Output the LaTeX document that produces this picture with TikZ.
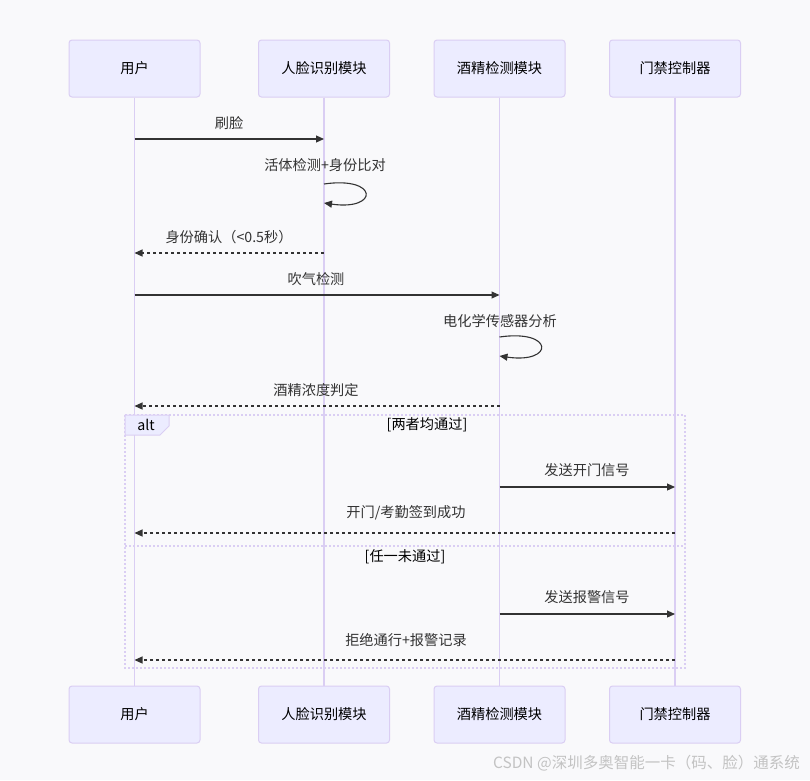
\documentclass[tikz,border=0pt]{standalone}
\usepackage{fontspec}
\setmainfont{Noto Sans CJK SC}
\usepackage{xcolor}
\usetikzlibrary{arrows.meta, positioning, calc}
\definecolor{seqBack}{RGB}{249, 249, 251}
\definecolor{actorFill}{RGB}{236, 236, 255}
\definecolor{actorLine}{RGB}{218, 206, 243}
\definecolor{msgLine}{RGB}{51, 51, 51}
\definecolor{markGray}{RGB}{195, 195, 195}

\begin{document}
\begin{tikzpicture}[x=1pt, y=-1pt, font=\fontsize{14.2}{16}\selectfont]
        \tikzstyle{actor} = [rectangle, rounded corners=3pt, minimum width=131pt, minimum height=57pt, text centered, draw=actorLine, fill=actorFill, line width=1pt, text=black]
        \tikzstyle{life} = [actorLine, line width=1.6pt]
        \tikzstyle{msg} = [-{Triangle[length=8pt, width=7pt]}, msgLine, line width=1.1pt]
        \tikzstyle{reply} = [msg, dash pattern=on 3pt off 3pt]
        \tikzstyle{txt} = [text=msgLine, inner sep=0pt]
        \tikzstyle{frame} = [actorLine, line width=1.3pt, dash pattern=on 2pt off 2pt]

        % Background
        \fill[seqBack] (0,0) rectangle (810,780);
        \useasboundingbox (0,0) rectangle (810,780);

        % Actors (top)
        \node[actor] (userT) at (134.5,68.5) {用户};
        \node[actor] (faceT) at (324,68.5) {人脸识别模块};
        \node[actor] (alcT) at (499.5,68.5) {酒精检测模块};
        \node[actor] (doorT) at (675,68.5) {门禁控制器};

        % Actors (bottom)
        \node[actor] (userB) at (134.5,714.5) {用户};
        \node[actor] (faceB) at (324,714.5) {人脸识别模块};
        \node[actor] (alcB) at (499.5,714.5) {酒精检测模块};
        \node[actor] (doorB) at (675,714.5) {门禁控制器};

        % Lifelines
        \draw[life] (userT) -- (userB);
        \draw[life] (faceT) -- (faceB);
        \draw[life] (alcT) -- (alcB);
        \draw[life] (doorT) -- (doorB);

        % Alt frame
        \draw[frame] (125,415) rectangle (685,668);
        \draw[frame] (125,546) -- (685,546);
        \filldraw[fill=actorFill, draw=actorLine, line width=1pt] (125,415) -- (169,415) -- (169,426) -- (160,435) -- (125,435) -- cycle;
        \node[txt, text=black] (altlbl) at (146,425) {alt};
        \node[txt, text=black] (cond1) at (427,425) {[两者均通过]};
        \node[txt, text=black] (cond2) at (405,557) {[任一未通过]};

        % Face check
        \node[txt] (m1) at (229,123) {刷脸};
        \draw[msg] (userT |- 0,139) -- (faceT |- 0,139);
        \node[txt] (m2) at (325,165) {活体检测+身份比对};
        \draw[msg] (faceT |- 0,184) .. controls +(55,-8) and +(55,8) .. (faceT |- 0,203);
        \node[txt] (m3) at (229,237) {身份确认（<0.5秒）};
        \draw[reply] (faceT |- 0,253) -- (userT |- 0,253);

        % Alcohol check
        \node[txt] (m4) at (316,279) {吹气检测};
        \draw[msg] (userT |- 0,295) -- (alcT |- 0,295);
        \node[txt] (m5) at (500,321) {电化学传感器分析};
        \draw[msg] (alcT |- 0,337) .. controls +(55,-8) and +(55,8) .. (alcT |- 0,356);
        \node[txt] (m6) at (316,390) {酒精浓度判定};
        \draw[reply] (alcT |- 0,406) -- (userT |- 0,406);

        % Both passed
        \node[txt] (m7) at (587,470) {发送开门信号};
        \draw[msg] (alcT |- 0,487) -- (doorT |- 0,487);
        \node[txt] (m8) at (406,513) {开门/考勤签到成功};
        \draw[reply] (doorT |- 0,533) -- (userT |- 0,533);

        % One failed
        \node[txt] (m9) at (587,597) {发送报警信号};
        \draw[msg] (alcT |- 0,614) -- (doorT |- 0,614);
        \node[txt] (m10) at (406,640) {拒绝通行+报警记录};
        \draw[reply] (doorT |- 0,660) -- (userT |- 0,660);

        % Watermark
        \node[txt, text=markGray, anchor=east, font=\fontsize{15.5}{18}\selectfont] (mark) at (800,763) {CSDN @深圳多奥智能一卡（码、脸）通系统};
    \end{tikzpicture}
\end{document}
